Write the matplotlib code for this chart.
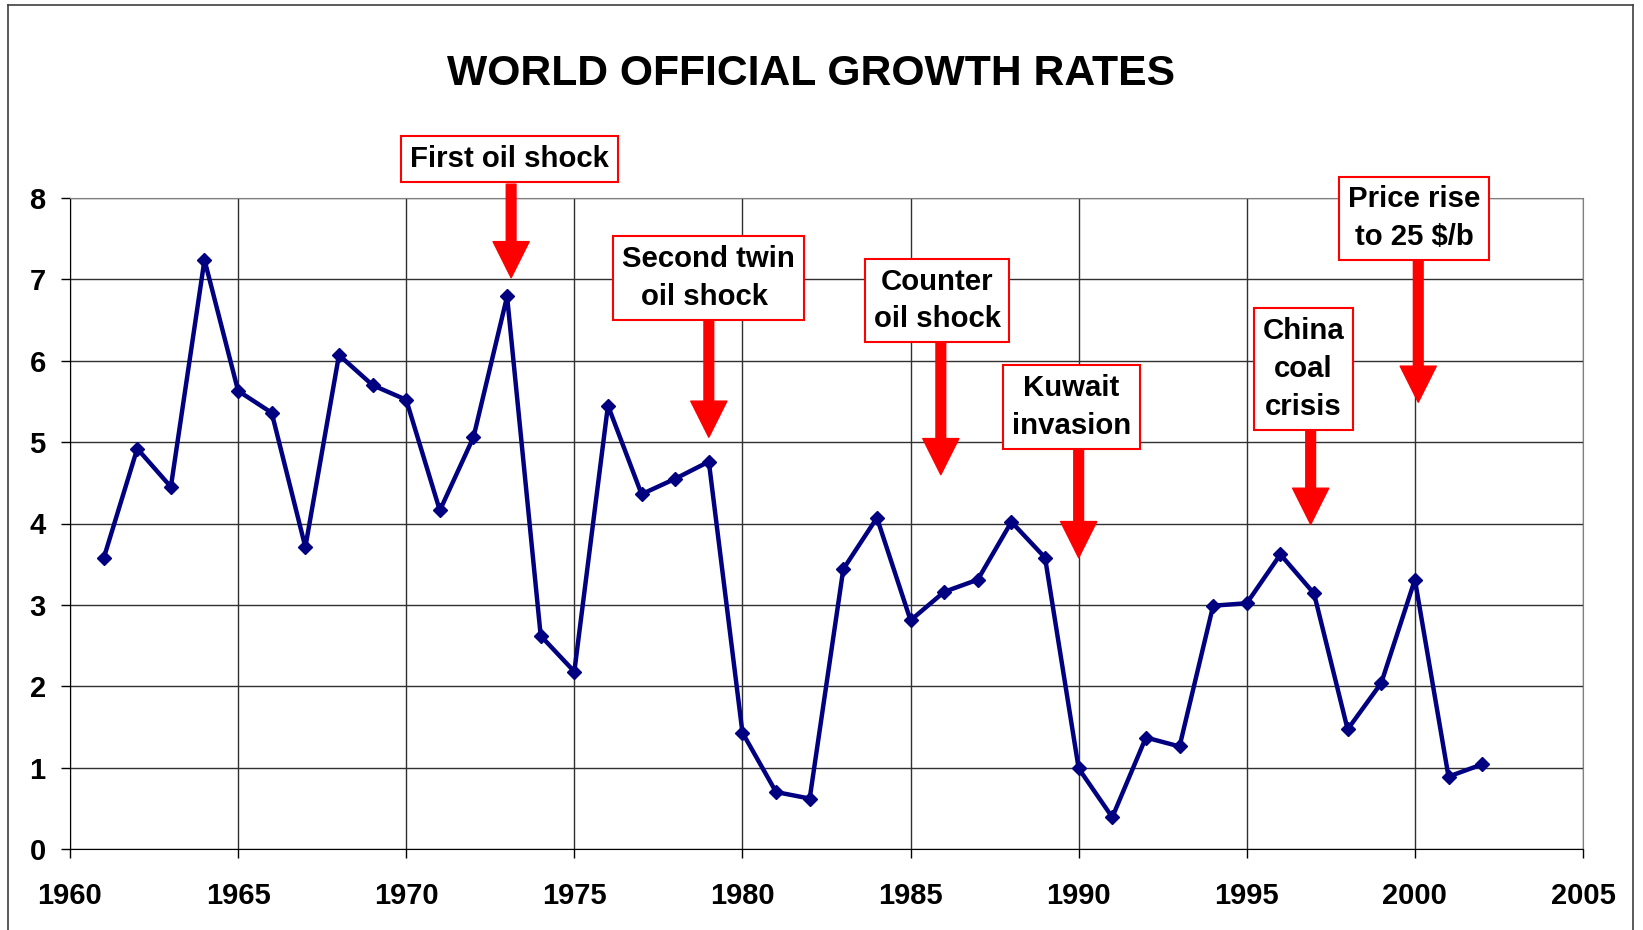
import matplotlib
matplotlib.use("Agg")
import matplotlib.pyplot as plt
from matplotlib.lines import Line2D

plt.rcParams['font.family'] = ['Liberation Sans', 'DejaVu Sans']
plt.rcParams['font.weight'] = 'bold'

# data
years = list(range(1961, 2003))
growth = [3.57, 4.92, 4.45, 7.24, 5.63, 5.36, 3.71, 6.07, 5.70, 5.52,
          4.16, 5.06, 6.79, 2.62, 2.18, 5.45, 4.36, 4.55, 4.76, 1.43,
          0.70, 0.62, 3.44, 4.07, 2.81, 3.16, 3.31, 4.02, 3.58, 0.99,
          0.39, 1.37, 1.26, 2.99, 3.02, 3.62, 3.14, 1.47, 2.04, 3.31,
          0.89, 1.04]

x_ticks = [1960, 1965, 1970, 1975, 1980, 1985, 1990, 1995, 2000, 2005]
y_ticks = [0, 1, 2, 3, 4, 5, 6, 7, 8]

# events: label, box centre (year, value), arrow tail, arrow tip
event_labels = ["First oil shock", "Second twin\noil shock ", "Counter\noil shock",
                "Kuwait\ninvasion", "China\ncoal\ncrisis", "Price rise\nto 25 $/b"]
box_x = [1973.07, 1978.99, 1985.79, 1989.79, 1996.69, 1999.97]
box_y = [8.48, 7.02, 6.74, 5.43, 5.90, 7.75]
arrow_x = [1973.12, 1979.0, 1985.9, 1990.0, 1996.9, 2000.1]
arrow_tail = [8.17, 6.53, 6.26, 4.94, 5.19, 7.24]
arrow_tip = [7.02, 5.06, 4.60, 3.58, 3.99, 5.49]

fig = plt.figure(figsize=(16.43, 9.30), dpi=100)
ax = fig.add_axes([70 / 1643, 81 / 930, (1583 - 70) / 1643, (849 - 198) / 930])

ax.plot(years, growth, color='#000080', lw=3.2, marker='D', markersize=7.5,
        zorder=3)

ax.set_xlim(1960, 2005)
ax.set_ylim(0, 8)
ax.set_xticks(x_ticks)
ax.set_yticks(y_ticks)
ax.grid(True, color='#303030', lw=1.0)
ax.set_axisbelow(True)
ax.tick_params(axis='both', labelsize=21, length=6.5, width=1, color='black')
ax.tick_params(axis='x', pad=17)
ax.tick_params(axis='y', pad=11)
for s in ['top', 'right']:
    ax.spines[s].set_color('#808080')
for s in ['left', 'bottom']:
    ax.spines[s].set_color('black')

# arrows
for x, t0, t1 in zip(arrow_x, arrow_tail, arrow_tip):
    ax.annotate('', xy=(x, t1), xytext=(x, t0), annotation_clip=False,
                arrowprops=dict(width=7, headwidth=26, headlength=26,
                                facecolor='red', edgecolor='red', shrink=0),
                zorder=4)

# labelled boxes
for lab, bx, by in zip(event_labels, box_x, box_y):
    ax.text(bx, by, lab, ha='center', va='center', multialignment='center',
            fontsize=21.2, fontweight='bold', linespacing=1.45, clip_on=False,
            zorder=5,
            bbox=dict(boxstyle='square,pad=0.3', facecolor='white',
                      edgecolor='red', lw=1.5))

fig.text(0.4936, 0.920, 'WORLD OFFICIAL GROWTH RATES', ha='center', va='center',
         fontsize=30.7, fontweight='bold')

# outer frame
frame_kw = dict(transform=fig.transFigure, color='#404040', lw=1.2)
fig.add_artist(Line2D([8 / 1643, 8 / 1643], [0, 1 - 5 / 930], **frame_kw))
fig.add_artist(Line2D([8 / 1643, 1633 / 1643], [1 - 5 / 930, 1 - 5 / 930], **frame_kw))
fig.add_artist(Line2D([1633 / 1643, 1633 / 1643], [0, 1 - 5 / 930], **frame_kw))

fig.savefig('out.png', dpi=100)
